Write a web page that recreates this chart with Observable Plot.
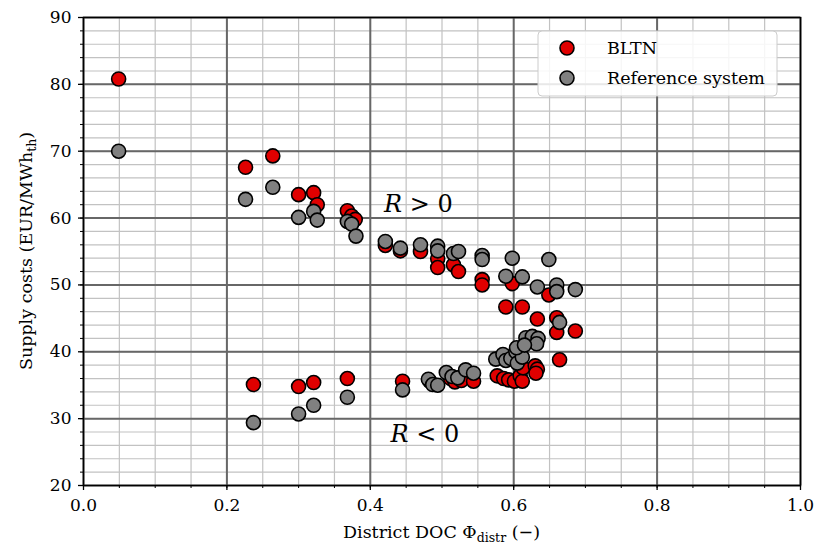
<!DOCTYPE html>
<html>
<head>
<meta charset="utf-8">
<script src="https://cdn.jsdelivr.net/npm/d3@7"></script>
<script src="https://cdn.jsdelivr.net/npm/@observablehq/plot@0.6"></script>
<style>
  html, body { margin: 0; padding: 0; background: white; }
</style>
</head>
<body>
<div id="chart"></div>
<script>
// BLTN series
const bltnX = [0.049, 0.226, 0.264, 0.300, 0.321, 0.326, 0.368, 0.374, 0.379, 0.421, 0.442, 0.470, 0.494, 0.494, 0.516, 0.523, 0.556, 0.556, 0.598, 0.589, 0.612, 0.633, 0.649, 0.660, 0.660, 0.686, 0.664,
  0.237, 0.300, 0.321, 0.368, 0.445, 0.483, 0.512, 0.518, 0.527, 0.544, 0.577, 0.586, 0.593, 0.601, 0.609, 0.612, 0.613, 0.630, 0.633, 0.631];
const bltnY = [80.8, 67.6, 69.3, 63.5, 63.8, 62.0, 61.1, 60.3, 59.8, 55.9, 55.1, 55.0, 53.9, 52.6, 53.0, 52.0, 50.8, 50.0, 50.2, 46.7, 46.7, 44.9, 48.5, 45.1, 42.9, 43.1, 38.8,
  35.1, 34.8, 35.4, 36.0, 35.6, 35.6, 36.0, 35.5, 35.7, 35.6, 36.4, 36.0, 35.8, 35.6, 36.4, 35.6, 37.6, 37.9, 37.4, 36.8];
// Reference system series
const refX = [0.049, 0.226, 0.264, 0.300, 0.321, 0.326, 0.368, 0.374, 0.380, 0.421, 0.442, 0.470, 0.494, 0.494, 0.516, 0.523, 0.556, 0.556, 0.598, 0.649, 0.589, 0.612, 0.633, 0.660, 0.660, 0.686, 0.664, 0.617, 0.626, 0.634, 0.632,
  0.237, 0.300, 0.321, 0.368, 0.445, 0.481, 0.487, 0.494, 0.506, 0.514, 0.522, 0.533, 0.544, 0.575, 0.585, 0.589, 0.596, 0.603, 0.605, 0.612, 0.604, 0.615];
const refY = [70.0, 62.8, 64.6, 60.1, 61.0, 59.7, 59.5, 59.1, 57.3, 56.5, 55.5, 56.0, 55.8, 55.1, 54.7, 55.0, 54.4, 53.8, 54.0, 53.8, 51.3, 51.2, 49.7, 50.0, 49.0, 49.3, 44.4, 42.1, 42.3, 42.0, 41.2,
  29.4, 30.7, 32.0, 33.2, 34.3, 35.9, 35.1, 35.0, 36.9, 36.3, 36.1, 37.3, 36.8, 38.9, 39.6, 38.7, 39.0, 40.0, 38.3, 39.2, 40.6, 41.0];

const xMajor = [0, 0.2, 0.4, 0.6, 0.8, 1.0];
const xMinor = d3.range(0, 21).map(i => i * 0.05);
const yMajor = [20, 30, 40, 50, 60, 70, 80, 90];
const yMinor = d3.range(20, 91, 2);
const seriesNames = ["BLTN", "Reference system"];
const seriesColors = ["#e00000", "#808080"];
const annotations = [{x: 0.467, y: 62.0, t: "R > 0"}, {x: 0.476, y: 27.6, t: "R < 0"}];

const bltn = bltnX.map((x, i) => ({x, y: bltnY[i]}));
const ref = refX.map((x, i) => ({x, y: refY[i]}));

const W = 817, H = 553, mL = 83, mR = 17, mT = 17, mB = 68;
const font = "'DejaVu Serif', serif";
const fs = 17.5;

const chart = Plot.plot({
  width: W, height: H,
  marginLeft: mL, marginRight: mR, marginTop: mT, marginBottom: mB,
  x: {domain: [0, 1]},
  y: {domain: [20, 90]},
  style: {fontFamily: font, fontSize: "17px", color: "black", background: "white"},
  marks: [
    Plot.gridX(xMinor, {stroke: "#c2c2c2", strokeOpacity: 1, strokeWidth: 1.2}),
    Plot.gridY(yMinor, {stroke: "#c2c2c2", strokeOpacity: 1, strokeWidth: 1.2}),
    Plot.gridX(xMajor, {stroke: "#676767", strokeOpacity: 1, strokeWidth: 2}),
    Plot.gridY(yMajor, {stroke: "#676767", strokeOpacity: 1, strokeWidth: 2}),
    Plot.dot(bltn, {x: "x", y: "y", r: 7, fill: seriesColors[0], stroke: "black", strokeWidth: 1.6}),
    Plot.dot(ref, {x: "x", y: "y", r: 7, fill: seriesColors[1], stroke: "black", strokeWidth: 1.6}),
    Plot.text(annotations, {x: "x", y: "y", text: "t", fontSize: 24, fill: "black"}),
    Plot.frame({stroke: "black", strokeWidth: 1.5}),
    Plot.axisX(xMajor, {tickSize: 5, tickPadding: 8, tickFormat: d => d.toFixed(1), label: null, strokeWidth: 1.3}),
    Plot.axisX(xMinor, {tickSize: 3, tickFormat: () => "", label: null}),
    Plot.axisY(yMajor, {tickSize: 5, tickPadding: 7, tickFormat: d => String(d), label: null, strokeWidth: 1.3}),
    Plot.axisY(yMinor, {tickSize: 3, tickFormat: () => "", label: null})
  ]
});

document.getElementById("chart").appendChild(chart);

const svg = d3.select(chart);

// Italic R in annotations
svg.selectAll("text").each(function() {
  const t = this.textContent;
  if (t === "R > 0" || t === "R < 0") {
    const el = d3.select(this);
    el.text(null);
    el.append("tspan").attr("font-style", "italic").text("R");
    el.append("tspan").text(t.slice(1));
  }
});

// Axis labels
const xl = svg.append("text")
  .attr("x", (mL + W - mR) / 2).attr("y", 538)
  .attr("text-anchor", "middle")
  .attr("font-family", font).attr("font-size", fs).attr("fill", "black");
xl.append("tspan").text("District DOC Φ");
xl.append("tspan").attr("font-size", 12.5).attr("dy", 4).text("distr");
xl.append("tspan").attr("dy", -4).text(" (−)");

const yl = svg.append("text")
  .attr("transform", `translate(32,${(mT + H - mB) / 2}) rotate(-90)`)
  .attr("text-anchor", "middle")
  .attr("font-family", font).attr("font-size", fs).attr("fill", "black");
yl.append("tspan").text("Supply costs (EUR/MWh");
yl.append("tspan").attr("font-size", 12.5).attr("dy", 4).text("th");
yl.append("tspan").attr("dy", -4).text(")");

// Legend
const lg = svg.append("g");
lg.append("rect").attr("x", 538).attr("y", 31).attr("width", 239).attr("height", 65).attr("rx", 4)
  .attr("fill", "white").attr("fill-opacity", 0.85).attr("stroke", "#cccccc").attr("stroke-width", 1);
seriesNames.forEach((name, i) => {
  lg.append("circle").attr("cx", 567).attr("cy", 48 + i * 30).attr("r", 7)
    .attr("fill", seriesColors[i]).attr("stroke", "black").attr("stroke-width", 1.6);
  lg.append("text").attr("x", 607).attr("y", 54 + i * 30)
    .attr("text-anchor", "start")
    .attr("font-family", font).attr("font-size", fs).attr("fill", "black").text(name);
});
</script>
</body>
</html>
